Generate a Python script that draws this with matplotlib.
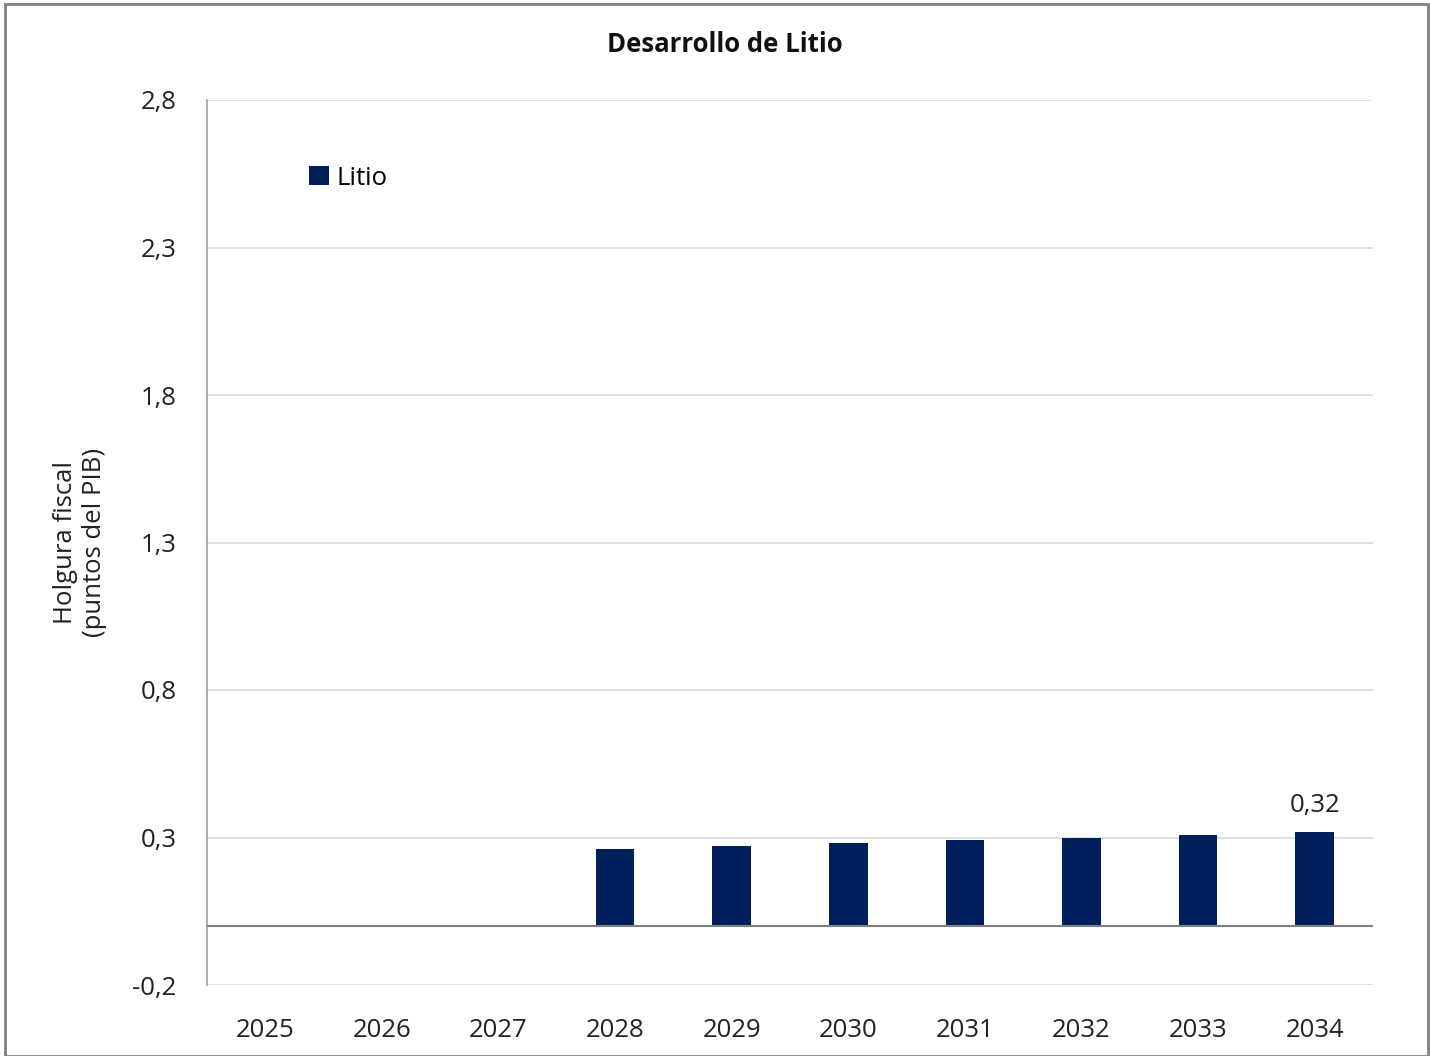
import matplotlib.pyplot as plt
from matplotlib.patches import Rectangle

years = ["2025", "2026", "2027", "2028", "2029", "2030", "2031", "2032", "2033", "2034"]
litio = [0, 0, 0, 0.26, 0.27, 0.28, 0.29, 0.30, 0.31, 0.32]
y_ticks = [-0.2, 0.3, 0.8, 1.3, 1.8, 2.3, 2.8]

plt.rcParams["font.family"] = ["Open Sans", "DejaVu Sans"]
color = "#001f5b"
fs = 18.5

fig = plt.figure(figsize=(14.3, 10.56), dpi=100)
ax = fig.add_axes([207 / 1430, 1 - 985 / 1056, (1373 - 207) / 1430, (985 - 100) / 1056])

x = range(len(years))
ax.bar(x, litio, width=0.33, color=color, label="Litio", zorder=3)
ax.text(len(years) - 1, litio[-1] + 0.045, "0,32", ha="center", va="bottom", fontsize=fs, color="#222222")

ax.set_xlim(-0.5, len(years) - 0.5)
ax.set_ylim(-0.2, 2.8)
ax.set_yticks(y_ticks)
ax.set_yticklabels([f"{v:.1f}".replace(".", ",") for v in y_ticks], fontsize=fs, color="#222222")
ax.set_xticks(list(x))
ax.set_xticklabels(years, fontsize=fs, color="#222222")
ax.tick_params(axis="y", length=0, pad=22)
ax.tick_params(axis="x", length=0, pad=24)

ax.grid(axis="y", color="#d9d9d9", linewidth=1.2, zorder=0)
ax.axhline(0, color="#808080", linewidth=1.5, zorder=4)
for s in ["top", "right", "bottom"]:
    ax.spines[s].set_visible(False)
ax.spines["left"].set_color("#a0a0a0")
ax.spines["left"].set_linewidth(1.2)

ax.set_ylabel("Holgura fiscal\n(puntos del PIB)", fontsize=fs, color="#222222", labelpad=18)
fig.text(725 / 1430, 1 - 45 / 1056, "Desarrollo de Litio", ha="center", va="center",
         fontsize=fs, fontweight="bold", color="#111111")

ax.legend(loc="upper left", bbox_to_anchor=(0.068, 0.952), frameon=False, fontsize=fs,
          handlelength=0.75, handleheight=0.75, handletextpad=0.3)

fig.patches.append(Rectangle((5 / 1430, 0), 1 - 5 / 1430 - 2 / 1430, 1 - 4 / 1056,
                             transform=fig.transFigure, fill=False, edgecolor="#808080", linewidth=2))

fig.savefig("out.png", dpi=100)
